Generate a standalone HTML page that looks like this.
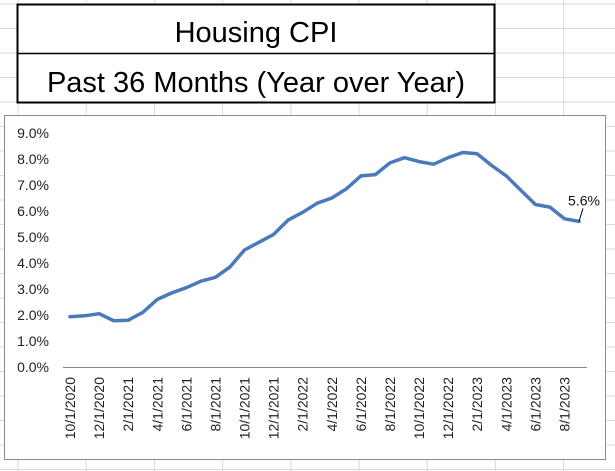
<!DOCTYPE html>
<html><head><meta charset="utf-8"><style>
body{margin:0;width:615px;height:471px;overflow:hidden;background:#fff;font-family:"Liberation Sans",sans-serif;}
svg{display:block}
</style></head><body>
<svg width="615" height="471" viewBox="0 0 615 471">
<g id="grid" stroke="#dadada" stroke-width="1"></g>
<rect x="17.5" y="4.5" width="477" height="98" fill="#fff" stroke="#000" stroke-width="2"/>
<line x1="17" y1="53.5" x2="494" y2="53.5" stroke="#000" stroke-width="1.5"/>
<text x="256" y="42" text-anchor="middle" font-size="29" font-family="Liberation Sans, sans-serif">Housing CPI</text>
<text x="256" y="92" text-anchor="middle" font-size="29" font-family="Liberation Sans, sans-serif">Past 36 Months (Year over Year)</text>
<rect x="4.5" y="115.5" width="601" height="344" fill="#fff" stroke="#8a8a8a" stroke-width="1"/>
<g id="plot"></g>
</svg>
<script>
const categories = ["10/1/2020","11/1/2020","12/1/2020","1/1/2021","2/1/2021","3/1/2021","4/1/2021","5/1/2021","6/1/2021","7/1/2021","8/1/2021","9/1/2021","10/1/2021","11/1/2021","12/1/2021","1/1/2022","2/1/2022","3/1/2022","4/1/2022","5/1/2022","6/1/2022","7/1/2022","8/1/2022","9/1/2022","10/1/2022","11/1/2022","12/1/2022","1/1/2023","2/1/2023","3/1/2023","4/1/2023","5/1/2023","6/1/2023","7/1/2023","8/1/2023","9/1/2023"];
const housingValues = [1.93,1.97,2.05,1.78,1.80,2.1,2.6,2.85,3.05,3.3,3.45,3.85,4.5,4.8,5.1,5.65,5.95,6.3,6.5,6.85,7.35,7.4,7.85,8.05,7.9,7.8,8.05,8.25,8.2,7.75,7.35,6.8,6.25,6.15,5.7,5.6];
const yTicks = [0,1,2,3,4,5,6,7,8,9];
const yTickLabels = ["0.0%","1.0%","2.0%","3.0%","4.0%","5.0%","6.0%","7.0%","8.0%","9.0%"];
const NS="http://www.w3.org/2000/svg";
const grid=document.getElementById('grid');
for(let x=18;x<615;x+=68.2){const l=document.createElementNS(NS,'line');l.setAttribute('x1',x);l.setAttribute('x2',x);l.setAttribute('y1',0);l.setAttribute('y2',471);


grid.appendChild(l);}
for(let y=4;y<471;y+=24.5){const l=document.createElementNS(NS,'line');l.setAttribute('x1',0);l.setAttribute('x2',615);l.setAttribute('y1',y);l.setAttribute('y2',y);


grid.appendChild(l);}
const plot=document.getElementById('plot');
const x0=70,x1=579,yZero=367,yPer=26;
const xs=i=>x0+i*(x1-x0)/(categories.length-1);
const ys=v=>yZero-v*yPer;
function mk(tag,attrs){const e=document.createElementNS(NS,tag);for(const k in attrs)e.setAttribute(k,attrs[k]);plot.appendChild(e);return e;}
yTicks.forEach((t,i)=>{const e=mk('text',{x:49,y:ys(t)+5,'text-anchor':'end','font-size':'14',fill:'#222'});e.textContent=yTickLabels[i];

});
const ax=mk('line',{x1:63,x2:587,y1:yZero+0.5,y2:yZero+0.5,stroke:'#888','stroke-width':1});


categories.forEach((c,i)=>{if(i%2)return;const x=xs(i)+5;const e=mk('text',{x:x,y:377,'text-anchor':'end','font-size':'14',fill:'#222',transform:`rotate(-90 ${x} 377)`});e.textContent=c;

});
const pts=housingValues.map((v,i)=>xs(i).toFixed(1)+','+ys(v).toFixed(1)).join(' ');
const pl=mk('polyline',{points:pts,fill:'none',stroke:'#4a7ab9','stroke-width':3.5,'stroke-linejoin':'round','stroke-linecap':'round'});


const li=housingValues.length-1,lx=xs(li),ly=ys(housingValues[li]);
const ld=mk('line',{x1:lx,y1:ly,x2:lx+4,y2:ly-13,stroke:'#000','stroke-width':1});


const lb=mk('text',{x:lx+5,y:ly-16,'text-anchor':'middle','font-size':'14',fill:'#111'});
lb.textContent=housingValues[li].toFixed(1)+'%';


</script>
</body></html>
